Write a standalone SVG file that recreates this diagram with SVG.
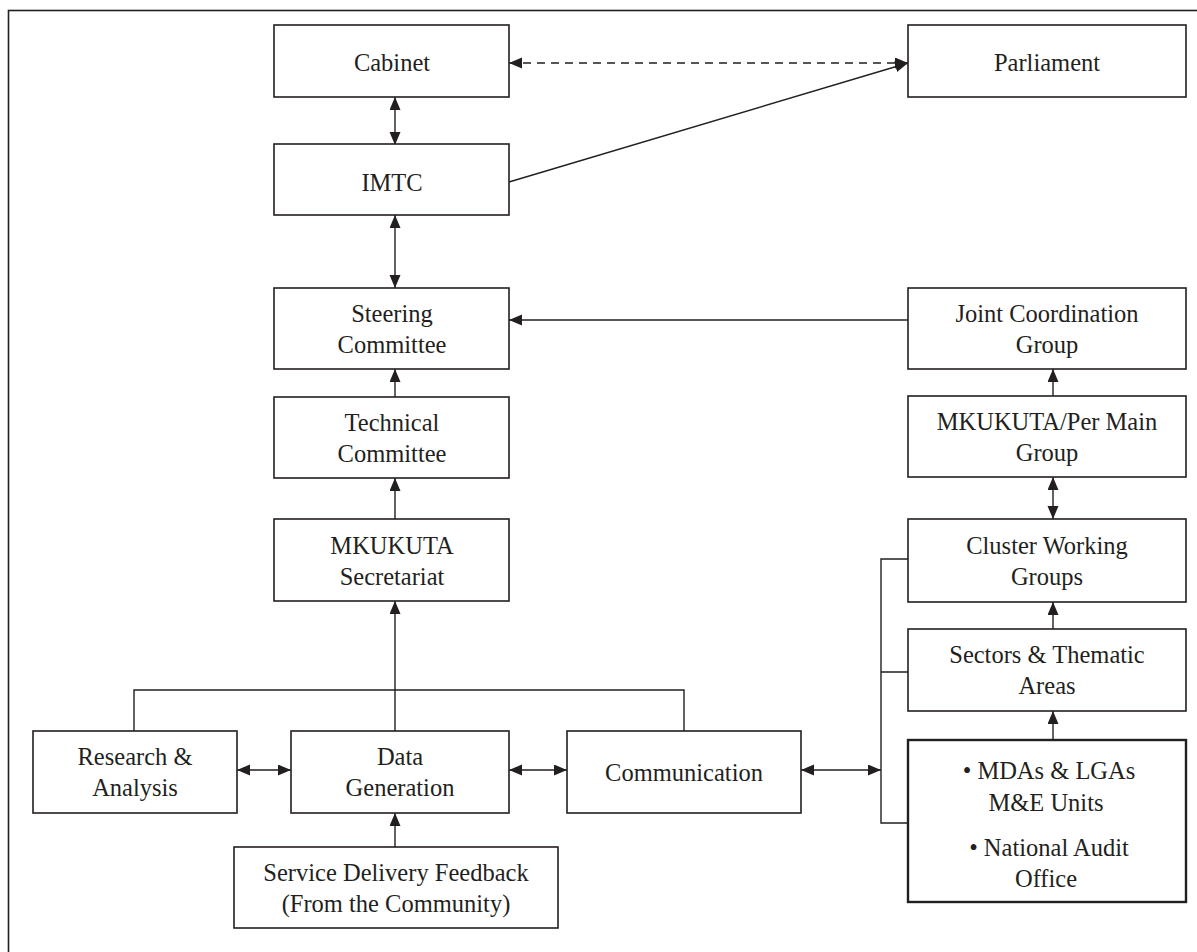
<svg xmlns="http://www.w3.org/2000/svg" width="1197" height="952" viewBox="0 0 1197 952">
<style>
.box{fill:#fff;stroke:#231f20;stroke-width:1.6}
.thick{stroke-width:2.4}
.t{font-family:"Liberation Serif","Times New Roman",serif;font-size:24.5px;fill:#231f20;text-anchor:middle;dominant-baseline:central}
.c{fill:none;stroke:#231f20;stroke-width:1.4}
.a{marker-end:url(#ah)}
.b{marker-start:url(#ah);marker-end:url(#ah)}
.d{stroke-dasharray:8 6}
</style>
<defs>
<marker id="ah" markerUnits="userSpaceOnUse" markerWidth="14" markerHeight="12" refX="13" refY="5.5" orient="auto-start-reverse">
<path d="M0,0 L13,5.5 L0,11 z" fill="#231f20"/>
</marker>
</defs>
<rect x="8.5" y="10.5" width="1250" height="1000" fill="none" stroke="#231f20" stroke-width="1.6"/>
<g id="connectors">
<path class="c b d" d="M509,63 H908"/>
<path class="c a" d="M509,182 L908,63"/>
<path class="c b" d="M395,97 V145"/>
<path class="c b" d="M395,215 V288"/>
<path class="c a" d="M395,397 V369"/>
<path class="c a" d="M395,519 V478"/>
<path class="c" d="M134,731 V690 H684 V731"/>
<path class="c a" d="M395,731 V601"/>
<path class="c a" d="M395,847 V813"/>
<path class="c b" d="M237,770 H291"/>
<path class="c b" d="M509,770 H567"/>
<path class="c b" d="M801,770 H881"/>
<path class="c" d="M908,559 H881 V823 H908 M881,672 H908"/>
<path class="c a" d="M1053,740 V711"/>
<path class="c a" d="M1053,629 V602"/>
<path class="c b" d="M1053,519 V477"/>
<path class="c a" d="M1053,396 V369"/>
<path class="c a" d="M908,320 H509"/>
</g>
<g id="cabinet"><rect class="box" x="274" y="25" width="235" height="72"/><text class="t" x="392" y="62">Cabinet</text></g>
<g id="parliament"><rect class="box" x="908" y="25" width="278" height="72"/><text class="t" x="1047" y="62">Parliament</text></g>
<g id="imtc"><rect class="box" x="274" y="144" width="235" height="71"/><text class="t" x="392" y="182">IMTC</text></g>
<g id="steering"><rect class="box" x="274" y="288" width="235" height="81"/><text class="t" x="392" y="313">Steering</text><text class="t" x="392" y="344">Committee</text></g>
<g id="technical"><rect class="box" x="274" y="397" width="235" height="81"/><text class="t" x="392" y="422">Technical</text><text class="t" x="392" y="453">Committee</text></g>
<g id="secretariat"><rect class="box" x="274" y="519" width="235" height="82"/><text class="t" x="392" y="545">MKUKUTA</text><text class="t" x="392" y="576">Secretariat</text></g>
<g id="research"><rect class="box" x="33" y="731" width="204" height="82"/><text class="t" x="135" y="756">Research &amp;</text><text class="t" x="135" y="787">Analysis</text></g>
<g id="datagen"><rect class="box" x="291" y="731" width="218" height="82"/><text class="t" x="400" y="756">Data</text><text class="t" x="400" y="787">Generation</text></g>
<g id="communication"><rect class="box" x="567" y="731" width="234" height="82"/><text class="t" x="684" y="772">Communication</text></g>
<g id="feedback"><rect class="box" x="234" y="847" width="324" height="81"/><text class="t" x="396" y="872">Service Delivery Feedback</text><text class="t" x="396" y="903">(From the Community)</text></g>
<g id="jcg"><rect class="box" x="908" y="288" width="278" height="81"/><text class="t" x="1047" y="313">Joint Coordination</text><text class="t" x="1047" y="344">Group</text></g>
<g id="mainGroup"><rect class="box" x="908" y="396" width="278" height="81"/><text class="t" x="1047" y="421">MKUKUTA/Per Main</text><text class="t" x="1047" y="452">Group</text></g>
<g id="cluster"><rect class="box" x="908" y="519" width="278" height="83"/><text class="t" x="1047" y="545">Cluster Working</text><text class="t" x="1047" y="576">Groups</text></g>
<g id="sectors"><rect class="box" x="908" y="629" width="278" height="82"/><text class="t" x="1047" y="654">Sectors &amp; Thematic</text><text class="t" x="1047" y="685">Areas</text></g>
<g id="mdas"><rect class="box thick" x="908" y="740" width="278" height="162"/><text class="t" x="1049" y="770">•  MDAs &amp; LGAs</text><text class="t" x="1046" y="802">M&amp;E Units</text><text class="t" x="1049" y="847">•  National Audit</text><text class="t" x="1046" y="878">Office</text></g>
</svg>
